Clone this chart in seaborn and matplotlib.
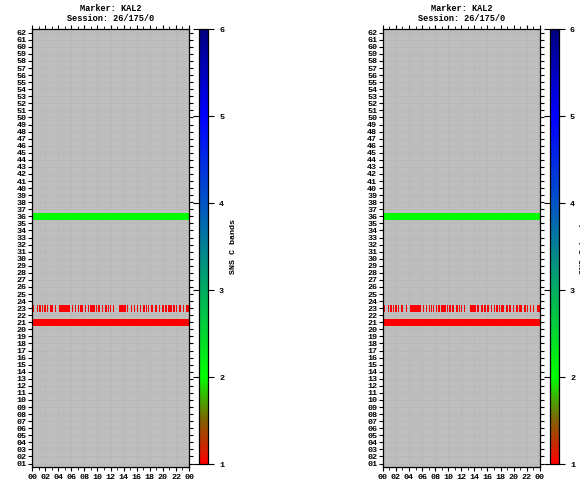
import numpy as np
import pandas as pd
import seaborn as sns
import matplotlib
matplotlib.use('Agg')
import matplotlib.pyplot as plt
from matplotlib.colors import LinearSegmentedColormap
from matplotlib.ticker import FixedLocator

# data
rows = list(range(1, 63))
hour_labels = ['00', '02', '04', '06', '08', '10', '12', '14', '16', '18', '20', '22', '00']
band_values = [1, 2, 3, 4, 5, 6]

full_rows = [21, 36]        # rows filled over the whole day
full_vals = [1, 2]          # SNS C band value of those rows

row23_val = 1
# (start, end) in hours of the marks on row 23
row23_marks = [(0.15, 0.31), (0.76, 0.92), (1.12, 1.43), (1.53, 1.73), (1.89, 2.09),
               (2.29, 2.45), (2.75, 3.11), (3.52, 3.67), (4.13, 5.86), (6.12, 6.32),
               (6.57, 6.73), (7.03, 7.14), (7.34, 7.54), (7.69, 7.80), (8.10, 8.26),
               (8.51, 8.67), (8.87, 9.58), (9.79, 9.94), (10.09, 10.40), (10.65, 10.86),
               (11.21, 11.41), (11.62, 11.72), (11.93, 12.08), (12.39, 12.49), (13.35, 14.27),
               (14.48, 14.63), (15.09, 15.29), (15.55, 15.70), (16.01, 16.21), (16.51, 16.72),
               (16.97, 17.17), (17.38, 17.54), (17.74, 17.89), (18.15, 18.55), (18.86, 19.07),
               (19.38, 19.53), (19.88, 20.08), (20.39, 20.60), (20.80, 21.31), (21.62, 21.82),
               (22.08, 22.23), (22.48, 22.69), (23.04, 23.14), (23.55, 24.0)]

# 2 minute bins over the day
nbins = 720
bin_start = np.arange(nbins) * 24 / nbins
bin_end = bin_start + 24 / nbins

grid = np.full((len(rows), nbins), np.nan)
for r, v in zip(full_rows, full_vals):
    grid[r - 1, :] = v
for s, e in row23_marks:
    grid[23 - 1, (bin_start < e) & (bin_end > s)] = row23_val

df = pd.DataFrame(grid[::-1], index=rows[::-1])

cmap = LinearSegmentedColormap.from_list('sns', [
    (0.0, (1.0, 0.0, 0.0)),
    (0.1, (0.5, 0.38, 0.0)),
    (0.2, (0.0, 1.0, 0.0)),
    (0.4, (0.0, 0.68, 0.38)),
    (0.6, (0.0, 0.33, 0.78)),
    (0.8, (0.0, 0.0, 1.0)),
    (1.0, (0.0, 0.0, 0.5)),
])

plt.rcParams['font.family'] = 'Liberation Mono'
plt.rcParams['font.weight'] = 'bold'
plt.rcParams['font.size'] = 6

fig = plt.figure(figsize=(5.8, 4.86), dpi=100)


def panel(left, cleft):
    ax = fig.add_axes([left, 0.039, 0.2707, 0.901])
    cax = fig.add_axes([cleft, 0.045, 0.0155, 0.895])
    sns.heatmap(df, ax=ax, cmap=cmap, vmin=1, vmax=6, cbar_ax=cax,
                xticklabels=False, yticklabels=False)
    ax.set_facecolor('#bebebe')
    ax.set_axisbelow(True)
    for sp in ax.spines.values():
        sp.set_visible(True)
        sp.set_linewidth(0.9)
        sp.set_color('black')

    ax.set_xticks(np.arange(0, nbins + 1, 60))
    ax.set_xticklabels(hour_labels)
    ax.xaxis.set_minor_locator(FixedLocator(np.arange(0, nbins + 1, 30)))
    ax.set_yticks(np.arange(len(rows)) + 0.5)
    ax.set_yticklabels(['%02d' % r for r in rows[::-1]])
    ax.tick_params(axis='x', which='both', top=True, bottom=True, direction='out',
                   labelsize=6, pad=2, rotation=0)
    ax.tick_params(axis='x', which='major', length=3)
    ax.tick_params(axis='x', which='minor', length=2)
    ax.tick_params(axis='y', which='both', left=True, right=True, direction='out',
                   length=3, labelsize=6, pad=1, rotation=0)
    ax.set_xlabel('')
    ax.set_ylabel('')
    ax.grid(True, which='major', color='#acacac', linestyle=':', linewidth=0.5, zorder=0)
    ax.set_title('Marker: KAL2\nSession: 26/175/0', fontsize=6.2, fontweight='bold',
                 linespacing=1.1, pad=6)

    cb = ax.collections[0].colorbar
    cb.outline.set_linewidth(0.9)
    cb.outline.set_edgecolor('black')
    cb.set_ticks(band_values)
    cb.set_ticklabels([str(v) for v in band_values])
    cax.tick_params(which='major', left=True, right=True, direction='out',
                    length=4, width=0.8, labelsize=6, pad=4)
    cax.tick_params(which='minor', left=False, right=False)
    cb.set_label('SNS C bands', fontsize=6, fontweight='bold', labelpad=4)


panel(0.0552, 0.343)
panel(0.660, 0.948)

fig.savefig('out.png', dpi=100)
